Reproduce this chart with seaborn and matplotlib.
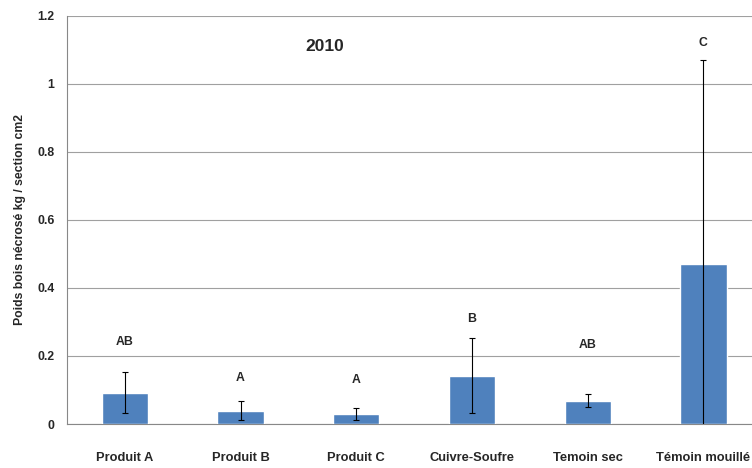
import numpy as np
import pandas as pd
import matplotlib
matplotlib.use("Agg")
import matplotlib.pyplot as plt
import seaborn as sns

categories = ["Produit A", "Produit B", "Produit C", "Cuivre-Soufre", "Temoin sec", "Témoin mouillé"]
values = [0.092, 0.039, 0.029, 0.142, 0.069, 0.471]
errors = [0.061, 0.028, 0.018, 0.111, 0.019, 0.600]
letters = ["AB", "A", "A", "B", "AB", "C"]
letter_y = [0.24, 0.135, 0.128, 0.31, 0.232, 1.12]

df = pd.DataFrame({"cat": categories, "val": values})

sns.set_style("white")
plt.rcParams['font.family'] = ['Liberation Sans', 'DejaVu Sans']

fig = plt.figure(figsize=(7.52, 4.68), dpi=100)
ax = fig.add_axes([0.089, 0.094, 0.911, 0.872])

sns.barplot(data=df, x="cat", y="val", color="#4F81BD", saturation=1, width=0.4, ax=ax, zorder=3)
ax.errorbar(np.arange(len(categories)), values, yerr=errors, fmt="none", ecolor="black",
            elinewidth=0.8, capsize=2.5, capthick=0.8, zorder=4)

for i, (lt, ly) in enumerate(zip(letters, letter_y)):
    ax.text(i, ly, lt, ha="center", va="center", fontsize=8.8, fontweight="bold")

ax.text(1.73, 1.11, "2010", ha="center", va="center", fontsize=12.5, fontweight="bold")

ax.set_ylim(0, 1.2)
ax.set_xlim(-0.5, 5.42)
ax.set_yticks([0, 0.2, 0.4, 0.6, 0.8, 1.0, 1.2])
ax.set_yticklabels(["0", "0.2", "0.4", "0.6", "0.8", "1", "1.2"])
ax.yaxis.grid(True, color="#a0a0a0", linewidth=0.8, zorder=0)
ax.set_axisbelow(True)

for s in ["top", "right"]:
    ax.spines[s].set_visible(False)
for s in ["left", "bottom"]:
    ax.spines[s].set_color("#888888")
    ax.spines[s].set_linewidth(0.8)

ax.tick_params(axis="y", length=3, color="#888888", labelsize=8.8, pad=6)
ax.tick_params(axis="x", length=0, labelsize=9.3, pad=20)
for lab in ax.get_xticklabels() + ax.get_yticklabels():
    lab.set_fontweight("bold")

ax.set_xlabel("")
ax.set_ylabel("Poids bois nécrosé kg / section cm2", fontsize=8.8, fontweight="bold", labelpad=8)

fig.savefig("out.png", dpi=100)
